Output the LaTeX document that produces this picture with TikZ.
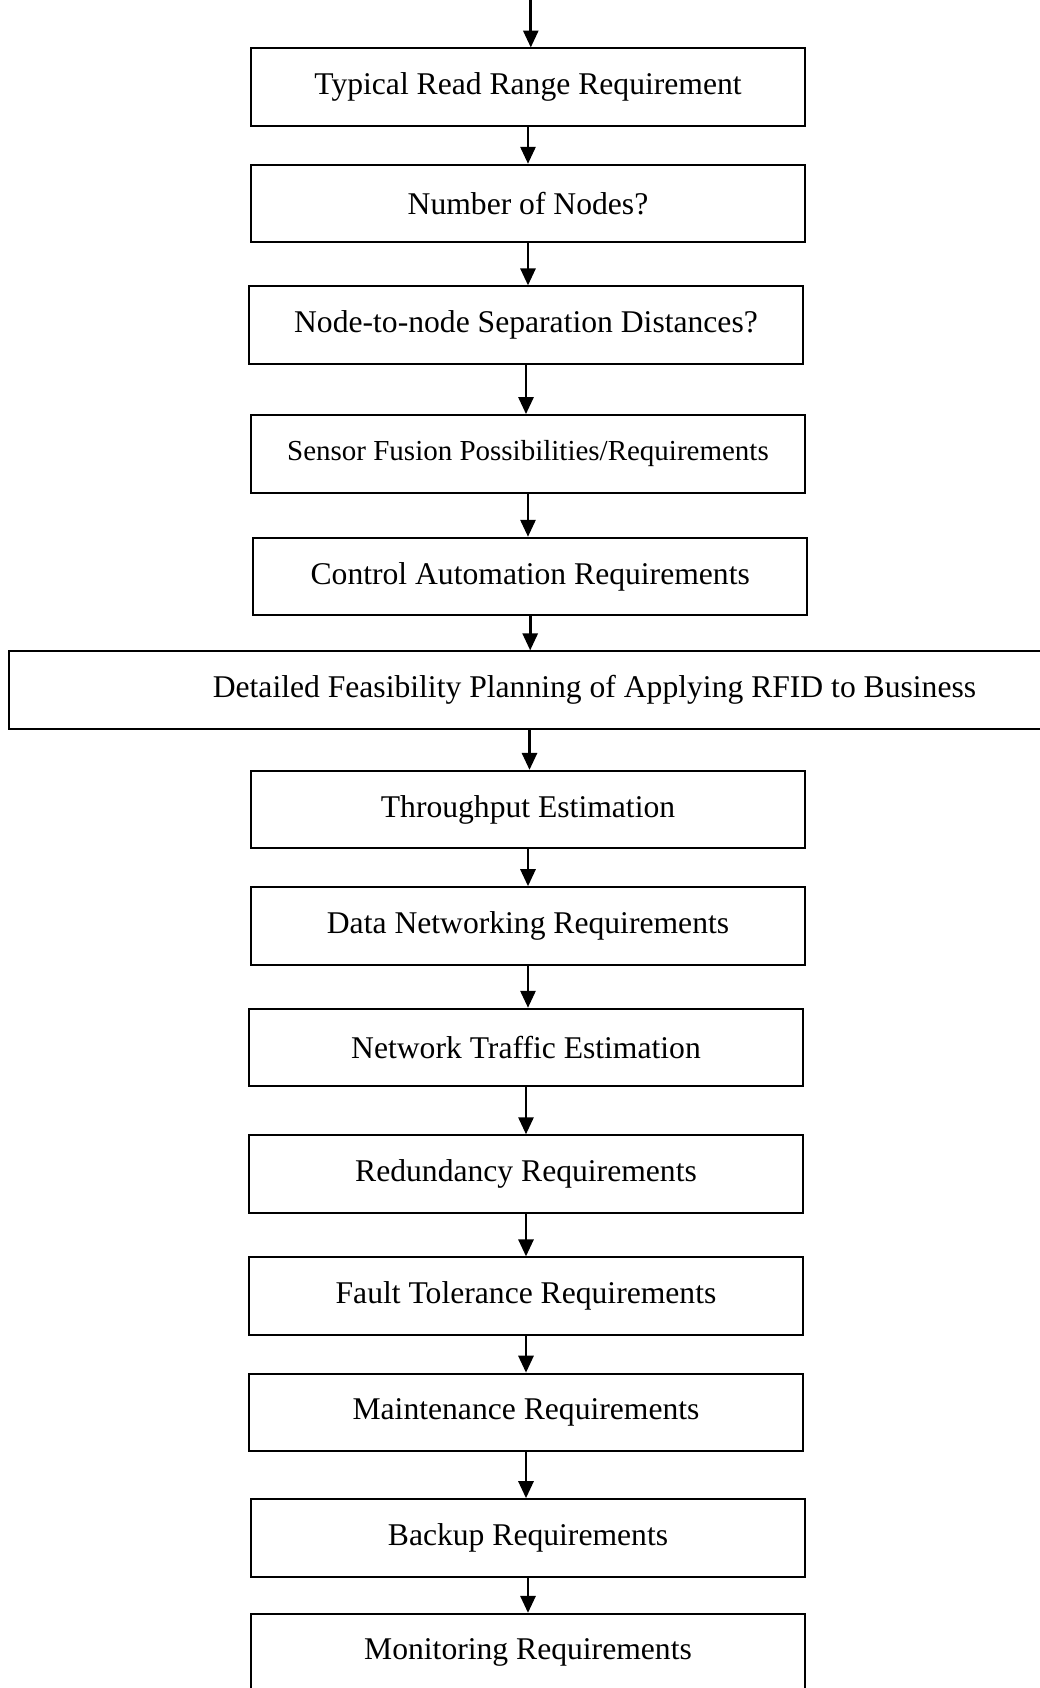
\documentclass[tikz,border=0pt]{standalone}
\usepackage{fontspec}
\setmainfont{Liberation Serif}
\usetikzlibrary{arrows.meta}

\begin{document}
\begin{tikzpicture}[
  x=0.02cm, y=-0.02cm,
  font=\fontsize{18}{22}\selectfont,
  stage/.style={draw, line width=1.1pt, minimum width=11.08cm, minimum height=1.55cm, inner sep=0pt},
  flow/.style={-{Triangle[length=3.4mm, width=3mm]}, line width=1.6pt}
]
\useasboundingbox (0,0) rectangle (1040,1688);
\clip (0,0) rectangle (1040,1688);

\coordinate (start) at (530.8,0);
\node[stage] (b1) at (528,87.2) {Typical Read Range Requirement};
\node[stage] (b2) at (528,203.5) {Number of Nodes?};
\node[stage] (b3) at (526,325.1) {Node-to-node Separation Distances?};
\node[stage, font=\fontsize{16.5}{20}\selectfont] (b4) at (528,453.8) {Sensor Fusion Possibilities/Requirements};
\node[stage] (b5) at (530.2,576.5) {Control Automation Requirements};
\node[stage, minimum width=20.83cm] (b6) at (529.5,690.1) {\hspace*{2.6cm}Detailed Feasibility Planning of Applying RFID to Business};
\node[stage] (b7) at (528,809.6) {Throughput Estimation};
\node[stage] (b8) at (528,925.9) {Data Networking Requirements};
\node[stage] (b9) at (526,1047.5) {Network Traffic Estimation};
\node[stage] (b10) at (526,1174.0) {Redundancy Requirements};
\node[stage] (b11) at (526,1296.1) {Fault Tolerance Requirements};
\node[stage] (b12) at (526,1412.4) {Maintenance Requirements};
\node[stage] (b13) at (528,1537.9) {Backup Requirements};
\node[stage] (b14) at (528,1652.6) {Monitoring Requirements};

\draw[flow] (start) -- (start |- b1.north);
\foreach \a/\b in {b1/b2,b2/b3,b3/b4,b4/b5,b5/b6,b6/b7,b7/b8,b8/b9,b9/b10,b10/b11,b11/b12,b12/b13,b13/b14}
  \draw[flow] (\a.south) -- (\a.south |- \b.north);
\end{tikzpicture}
\end{document}
